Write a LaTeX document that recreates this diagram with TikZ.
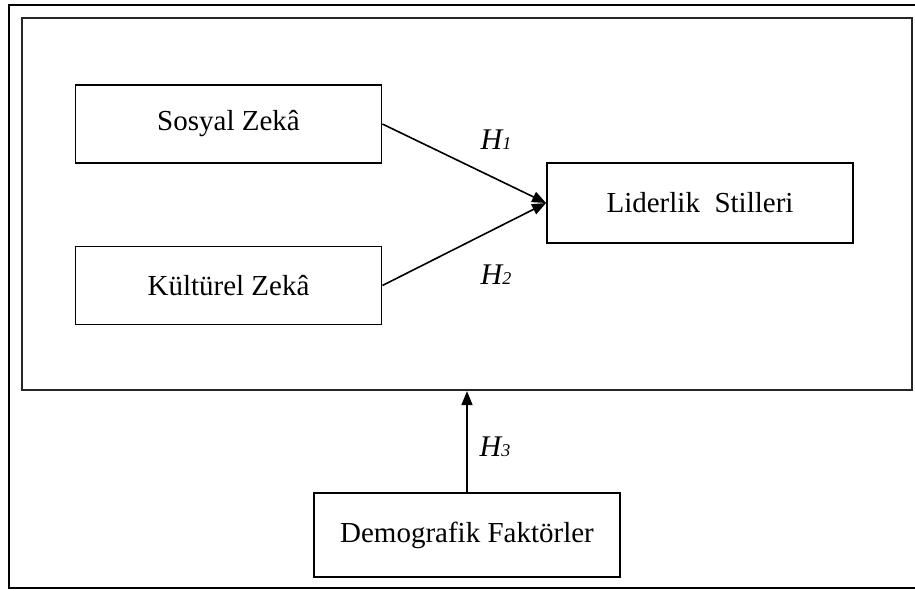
\documentclass[tikz,border=0pt]{standalone}
\usepackage{fontspec}
\setmainfont{Liberation Serif}
\usetikzlibrary{arrows.meta}

\begin{document}
\begin{tikzpicture}[
		x=0.5pt, y=-0.5pt,
		varbox/.style={draw, line width=0.9pt, minimum width=153pt, minimum height=39pt,
			font=\fontsize{14.5}{17}\selectfont},
		hlabel/.style={font=\fontsize{15}{18}\selectfont\itshape},
		link/.style={line width=0.8pt, -{Triangle[length=7pt, width=5.5pt]}}
		]
		
		% Page size
		\useasboundingbox (0,0) rectangle (915,590);
		
		% Draw the outer and inner frames
		\draw[line width=1.2pt] (9,5) rectangle (940,588);
		\node[draw, line width=1.1pt, draw=black!85, minimum width=445pt, minimum height=186pt] (model) at (467,204) {};
		
		% Draw the variable boxes
		\node[varbox] (sosyal) at (228.5,124) {Sosyal Zekâ};
		\node[varbox] (kultur) at (228.5,285.5) {Kültürel Zekâ};
		\node[varbox, minimum height=40pt] (lider) at (700,203) {Liderlik\ \ Stilleri};
		\node[varbox, minimum height=42pt] (demo) at (467,535) {Demografik Faktörler};
		
		% Draw the hypothesis arrows
		\draw[link] (sosyal.east) -- (lider.west);
		\draw[link] (kultur.east) -- (lider.west);
		\draw[link] (demo.north) -- (demo.north |- model.south);
		
		% Label the arrows
		\node[hlabel] (h1) at (496,140) {H{\small 1}};
		\node[hlabel] (h2) at (496,275) {H{\small 2}};
		\node[hlabel] (h3) at (495,447) {H{\small 3}};
		
	\end{tikzpicture}
\end{document}
